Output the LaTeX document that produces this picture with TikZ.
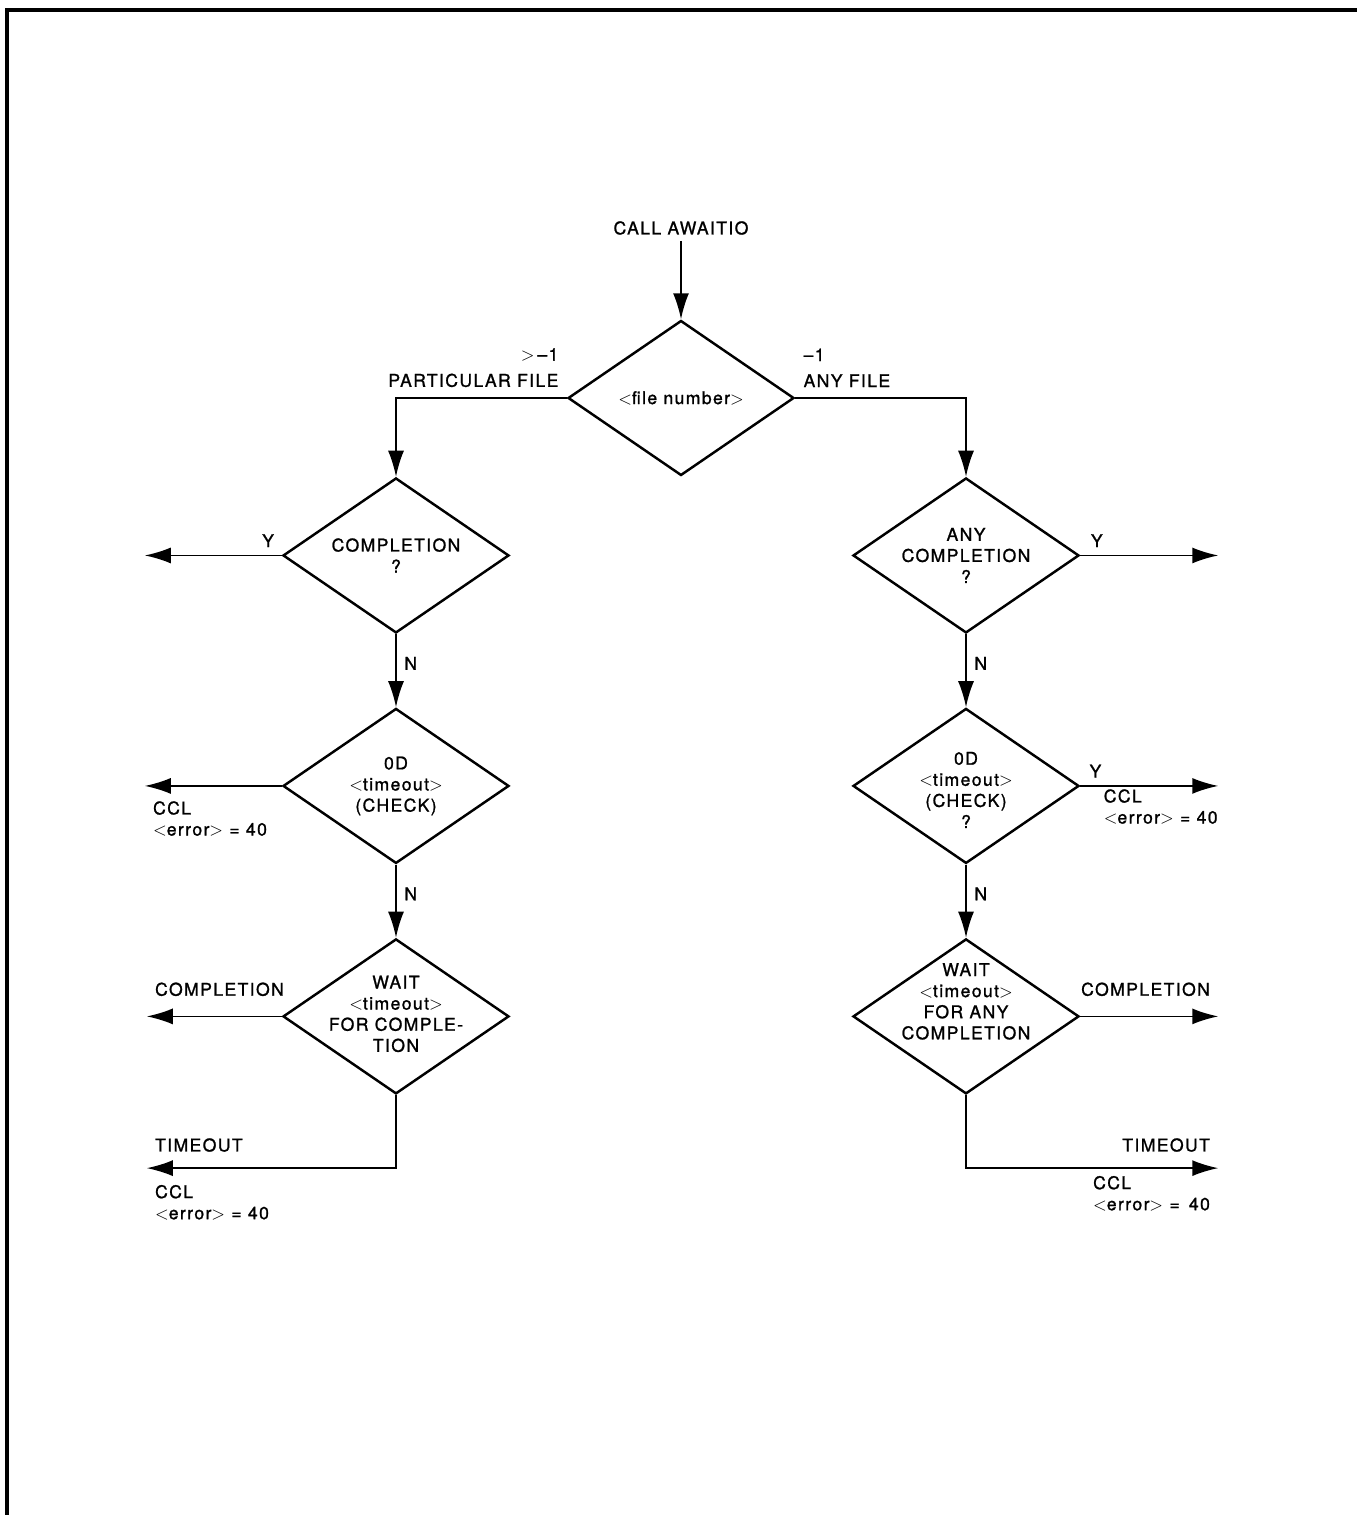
\documentclass[tikz,border=0pt]{standalone}
\usepackage{fontspec}
\setmainfont[LetterSpace=8,FakeBold=1.2]{TeX Gyre Heros}
\usetikzlibrary{positioning,shapes.geometric,arrows.meta}

\begin{document}
\begin{tikzpicture}[
x=0.2mm, y=-0.2mm,
decision/.style={
draw,
diamond,
line width=1.4pt,
minimum width=45.2mm,
minimum height=31mm,
inner sep=0pt
},
dtext/.style={
align=center,
inner sep=0pt
},
lbl/.style={
align=left,
inner sep=1.5mm
},
arrow/.style={
-{Latex[length=5.2mm,width=3.2mm]},
line width=1pt
}
]

\useasboundingbox (0,0) rectangle (1357,1515);
\draw[line width=2pt] (7,1515) -- (7,10) -- (1357,10);


% Entry

\node (call) at (681,228) {CALL AWAITIO};

\node (filenum) [decision] at (681,398) {};
\node [dtext] at (filenum) {$<$file number$>$};

\draw[arrow] (call) -- (filenum);


% Particular file

\node (partcomp) [decision, below=0pt of filenum, xshift=-57mm] {};
\node [dtext] at (partcomp) {COMPLETION\\?};

\node (partchk) [decision, below=14.6mm of partcomp] {};
\node [dtext] at (partchk) {0D\\$<$timeout$>$\\(CHECK)};

\node (partwait) [decision, below=14.6mm of partchk] {};
\node [dtext, yshift=0.5mm] at (partwait) {WAIT\\$<$timeout$>$\\FOR COMPLE-\\TION};

\coordinate [left=27.4mm of partcomp.west] (partcompY);
\coordinate [left=27.4mm of partchk.west] (partchkY);
\coordinate [left=27mm of partwait.west] (partwaitC);
\coordinate [below=14.6mm of partwait.south] (partbend);
\coordinate (partwaitT) at (partwaitC |- partbend);

\draw[arrow] (filenum.west) -| node[lbl, pos=0, above left, align=right, yshift=0.5mm] {$>$\,–1\\[1mm]PARTICULAR FILE} (partcomp.north);
\draw[arrow] (partcomp.west) -- node[lbl, pos=0.1, above] {Y} (partcompY);
\draw[arrow] (partcomp.south) -- node[lbl, pos=0.4, right] {N} (partchk.north);
\draw[arrow] (partchk.west) -- (partchkY) node[lbl, below right, yshift=-1.4mm] {CCL\\$<$error$>$ = 40};
\draw[arrow] (partchk.south) -- node[lbl, pos=0.4, right] {N} (partwait.north);
\draw[arrow] (partwait.west) -- (partwaitC) node[lbl, above right, yshift=2.4mm] {COMPLETION};
\draw[arrow] (partwait.south) -- (partbend) -- (partwaitT)
node[lbl, above right, yshift=1.6mm] {TIMEOUT}
node[lbl, below right, yshift=-1.7mm] {CCL\\$<$error$>$ = 40};


% Any file

\node (anycomp) [decision, below=0pt of filenum, xshift=57mm] {};
\node [dtext] at (anycomp) {ANY\\COMPLETION\\?};

\node (anychk) [decision, below=14.6mm of anycomp] {};
\node [dtext, yshift=-0.8mm] at (anychk) {0D\\$<$timeout$>$\\(CHECK)\\?};

\node (anywait) [decision, below=14.6mm of anychk] {};
\node [dtext, yshift=3mm] at (anywait) {WAIT\\$<$timeout$>$\\FOR ANY\\COMPLETION};

\coordinate [right=27.6mm of anycomp.east] (anycompY);
\coordinate [right=27.6mm of anychk.east] (anychkY);
\coordinate [right=27.6mm of anywait.east] (anywaitC);
\coordinate [below=14.6mm of anywait.south] (anybend);
\coordinate (anywaitT) at (anywaitC |- anybend);

\draw[arrow] (filenum.east) -| node[lbl, pos=0, above right, yshift=0.5mm] {–1\\[1mm]ANY FILE} (anycomp.north);
\draw[arrow] (anycomp.east) -- node[lbl, pos=0.12, above] {Y} (anycompY);
\draw[arrow] (anycomp.south) -- node[lbl, pos=0.4, right] {N} (anychk.north);
\draw[arrow] (anychk.east) -- node[lbl, pos=0.11, above] {Y} node[lbl, pos=0.11, below right, yshift=1mm] {CCL\\$<$error$>$ = 40} (anychkY);
\draw[arrow] (anychk.south) -- node[lbl, pos=0.4, right] {N} (anywait.north);
\draw[arrow] (anywait.east) -- (anywaitC) node[lbl, above left, yshift=2.4mm] {COMPLETION};
\draw[arrow] (anywait.south) -- (anybend) -- (anywaitT)
node[lbl, above left, yshift=1.6mm] {TIMEOUT}
node[lbl, below left, yshift=0.1mm] {CCL\\$<$error$>$ = \,40};


\end{tikzpicture}
\end{document}
